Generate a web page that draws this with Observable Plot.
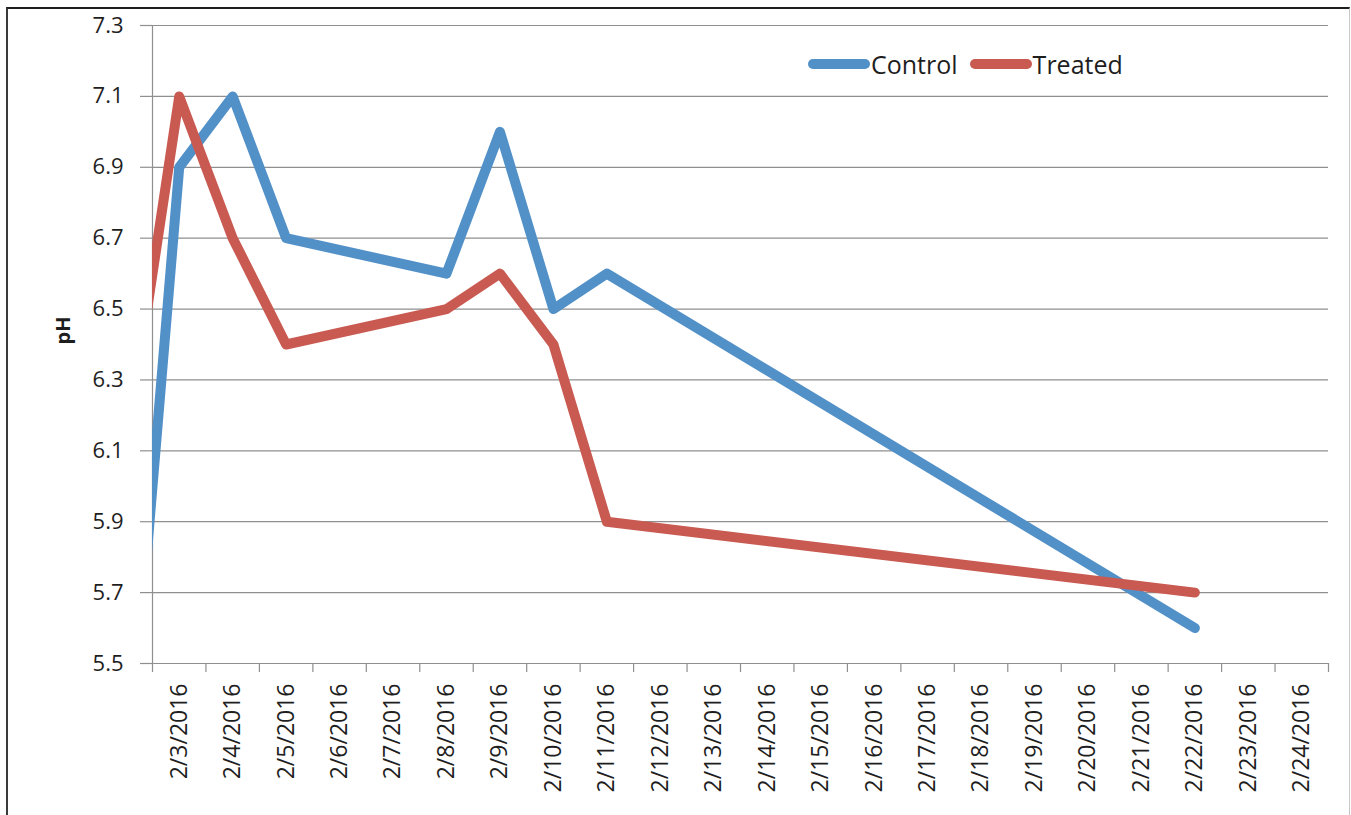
<!DOCTYPE html>
<html>
<head>
<meta charset="utf-8">
<script src="https://cdn.jsdelivr.net/npm/d3@7"></script>
<script src="https://cdn.jsdelivr.net/npm/@observablehq/plot@0.6"></script>
<style>
  html, body { margin: 0; padding: 0; background: #fff; }
  body { width: 1351px; height: 815px; position: relative; overflow: hidden; font-family: "Open Sans", sans-serif; }
  #frame { position: absolute; left: 6px; top: 7px; width: 1341px; height: 900px;
           border-left: 2px solid #3a3a3a; border-top: 2px solid #1e1e1e; border-right: 1px solid #c8c8c8; }
  #chart { position: absolute; left: 0; top: 0; }
  #legend { position: absolute; left: 808px; top: 47px; display: flex; align-items: center; font-size: 25px; color: #1e1e1e; }
  .sw { display: inline-block; height: 10px; border-radius: 5px; }
</style>
</head>
<body>
<div id="frame"></div>
<div id="chart"></div>
<div id="legend">
  <span class="sw" style="width:62px;background:#5290C8"></span><span style="margin-left:1px">Control</span>
  <span class="sw" style="width:62px;background:#C95A52;margin-left:12px"></span><span style="margin-left:1px">Treated</span>
</div>
<script>
// Day of February 2016 for each measurement
const days = [2, 3, 4, 5, 8, 9, 10, 11, 22];
const control = [5.1, 6.9, 7.1, 6.7, 6.6, 7.0, 6.5, 6.6, 5.6];
const treated = [6.1, 7.1, 6.7, 6.4, 6.5, 6.6, 6.4, 5.9, 5.7];

const xLabelDays = d3.range(3, 25);          // 2/3 .. 2/24
const xTickEdges = d3.range(2.5, 25, 1);     // band edges
const yTicks = [5.5, 5.7, 5.9, 6.1, 6.3, 6.5, 6.7, 6.9, 7.1, 7.3];

const controlData = days.map((d, i) => ({day: d, ph: control[i]}));
const treatedData = days.map((d, i) => ({day: d, ph: treated[i]}));

const gray = "#8f8f8f";
const font = "Open Sans";

const chart = Plot.plot({
  width: 1351,
  height: 815,
  marginLeft: 152,
  marginRight: 23,
  marginTop: 25,
  marginBottom: 152,
  style: {fontFamily: font, background: "transparent", color: "#1e1e1e"},
  x: {domain: [2.5, 24.5]},
  y: {domain: [5.5, 7.3]},
  marks: [
    Plot.gridY(yTicks, {stroke: gray, strokeOpacity: 1, strokeWidth: 1.2}),
    Plot.ruleX([2.5], {stroke: gray, strokeWidth: 1.2}),
    Plot.axisY(yTicks, {
      tickSize: 12, tickPadding: 17, stroke: gray, strokeWidth: 1.2,
      tickFormat: d => d.toFixed(1), fontSize: 22, label: null, fill: "#1e1e1e"
    }),
    Plot.axisX(xTickEdges, {
      tickSize: 9, tickFormat: () => "", stroke: gray, strokeWidth: 1.2, label: null
    }),
    Plot.axisX(xLabelDays, {
      tickSize: 0, tickPadding: 20, tickRotate: -90,
      tickFormat: d => `2/${d}/2016`, fontSize: 23, label: null, fill: "#1e1e1e"
    }),
    Plot.text(["pH"], {frameAnchor: "left", dx: -89, rotate: -90, fontWeight: "bold", fontSize: 20, fill: "#1e1e1e"}),
    Plot.line(controlData, {x: "day", y: "ph", stroke: "#5290C8", strokeWidth: 10,
      strokeLinecap: "round", strokeLinejoin: "round", clip: true}),
    Plot.line(treatedData, {x: "day", y: "ph", stroke: "#C95A52", strokeWidth: 10,
      strokeLinecap: "round", strokeLinejoin: "round", clip: true})
  ]
});
document.getElementById("chart").appendChild(chart);
</script>
</body>
</html>
